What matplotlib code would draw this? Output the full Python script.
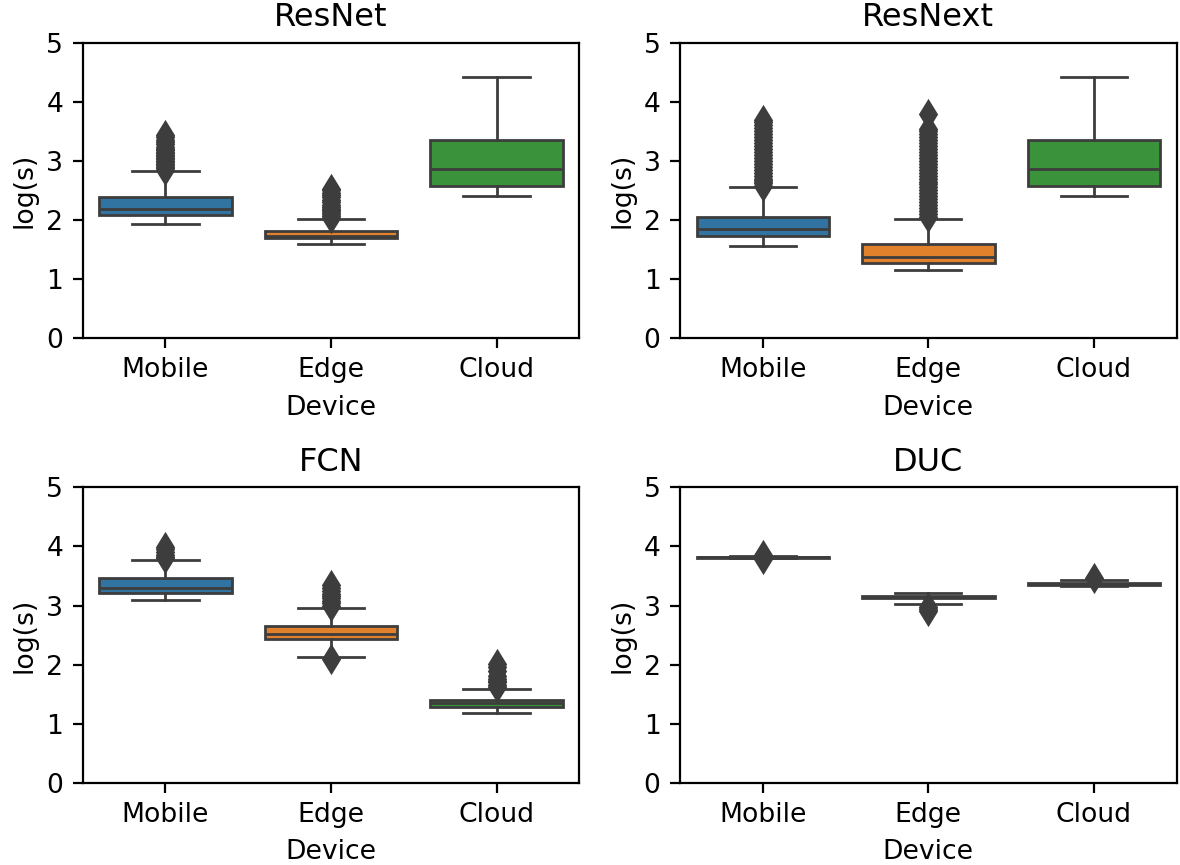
import matplotlib
matplotlib.use('Agg')
import matplotlib.pyplot as plt

devices = ['Mobile', 'Edge', 'Cloud']
models = ['ResNet', 'ResNext', 'FCN', 'DUC']
colors = ['#3274a1', '#e1812c', '#3a923a']
gray = '#3d3d3d'

# per model, per device: whislo, q1, median, q3, whishi
resnet_stats = [[1.93, 2.08, 2.18, 2.38, 2.82],
                [1.59, 1.69, 1.73, 1.82, 2.01],
                [2.41, 2.57, 2.87, 3.35, 4.42]]
resnext_stats = [[1.56, 1.72, 1.84, 2.05, 2.55],
                 [1.16, 1.27, 1.38, 1.59, 2.02],
                 [2.41, 2.57, 2.87, 3.35, 4.42]]
fcn_stats = [[3.09, 3.22, 3.30, 3.46, 3.77],
             [2.13, 2.43, 2.51, 2.65, 2.96],
             [1.185, 1.28, 1.355, 1.40, 1.58]]
duc_stats = [[3.80, 3.81, 3.82, 3.83, 3.84],
             [3.03, 3.13, 3.15, 3.17, 3.22],
             [3.33, 3.34, 3.36, 3.38, 3.44]]

resnet_fliers = [
    [2.85, 2.88, 2.9, 2.93, 2.95, 2.98, 3.0, 3.03, 3.05, 3.08, 3.1, 3.13,
     3.15, 3.18, 3.2, 3.24, 3.28, 3.32, 3.36, 3.4, 3.44],
    [2.04, 2.07, 2.1, 2.13, 2.16, 2.19, 2.22, 2.26, 2.3, 2.34, 2.38, 2.42,
     2.46, 2.5, 2.53],
    [],
]
resnext_fliers = [
    [2.58, 2.62, 2.66, 2.7, 2.75, 2.8, 2.85, 2.9, 2.95, 3.0, 3.05, 3.1,
     3.15, 3.2, 3.25, 3.3, 3.35, 3.4, 3.45, 3.5, 3.55, 3.6, 3.65, 3.7],
    [2.05, 2.1, 2.15, 2.2, 2.25, 2.3, 2.35, 2.4, 2.45, 2.5, 2.55, 2.6,
     2.65, 2.7, 2.75, 2.8, 2.85, 2.9, 2.95, 3.0, 3.05, 3.1, 3.15, 3.2,
     3.25, 3.3, 3.35, 3.4, 3.45, 3.5, 3.54, 3.79],
    [],
]
fcn_fliers = [
    [3.80, 3.83, 3.86, 3.9, 3.95, 3.99],
    [2.09, 3.0, 3.04, 3.08, 3.12, 3.16, 3.2, 3.25, 3.3, 3.35],
    [1.62, 1.66, 1.7, 1.73, 1.76, 1.8, 1.9, 1.96, 2.01],
]
duc_fliers = [
    [3.79, 3.85],
    [2.9, 2.94, 2.98],
    [3.46],
]

all_stats = [resnet_stats, resnext_stats, fcn_stats, duc_stats]
all_fliers = [resnet_fliers, resnext_fliers, fcn_fliers, duc_fliers]

plt.rcParams['font.size'] = 9.6

fig = plt.figure(figsize=(5.9, 4.325), dpi=200)
positions = [[0.0701, 0.6092, 0.4209, 0.3414],
             [0.5763, 0.6092, 0.4209, 0.3414],
             [0.0701, 0.0951, 0.4209, 0.3414],
             [0.5763, 0.0951, 0.4209, 0.3414]]

for k in range(4):
    ax = fig.add_axes(positions[k])
    bstats = []
    for j in range(3):
        s = all_stats[k][j]
        bstats.append({'whislo': s[0], 'q1': s[1], 'med': s[2], 'q3': s[3],
                       'whishi': s[4], 'fliers': all_fliers[k][j]})
    lw = 1.0
    art = ax.bxp(bstats, positions=[0, 1, 2], widths=0.8, patch_artist=True,
                 boxprops=dict(edgecolor=gray, linewidth=lw),
                 medianprops=dict(color=gray, linewidth=lw),
                 whiskerprops=dict(color=gray, linewidth=lw),
                 capprops=dict(color=gray, linewidth=lw),
                 flierprops=dict(marker='d', markerfacecolor=gray,
                                 markeredgecolor=gray, markersize=6.5))
    for patch, c in zip(art['boxes'], colors):
        patch.set_facecolor(c)
    ax.set_xlim(-0.5, 2.5)
    ax.set_ylim(0, 5)
    ax.set_yticks([0, 1, 2, 3, 4, 5])
    ax.set_xticks([0, 1, 2])
    ax.set_xticklabels(devices)
    ax.tick_params(axis='x', pad=3.5)
    ax.set_title(models[k], fontsize=11.5)
    ax.set_ylabel('log(s)', labelpad=3)
    ax.set_xlabel('Device', labelpad=4)

fig.savefig('out.png', dpi=200)
